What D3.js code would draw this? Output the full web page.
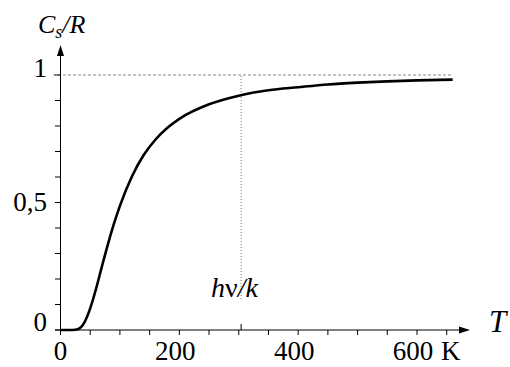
<!DOCTYPE html>
<html>
<head>
<meta charset="utf-8">
<script src="https://cdn.jsdelivr.net/npm/d3@7"></script>
</head>
<body style="margin:0">
<svg id="heat" width="510" height="367"></svg>
<script>
// values
const tempK = [0, 20, 30, 35, 40, 50, 60, 70, 80, 90, 100, 120, 140, 160, 180, 200, 250, 300, 350, 400, 450, 500, 550, 600, 660]
const heatCap = [0, 0, 0.004, 0.012, 0.029, 0.085, 0.163, 0.252, 0.338, 0.417, 0.487, 0.601, 0.686, 0.747, 0.793, 0.828, 0.885, 0.919, 0.94, 0.952, 0.963, 0.97, 0.975, 0.979, 0.982]
const xTickVals = [0, 200, 400, 600]
const xTickLabels = ["0", "200", "400", "600"]
const yTickVals = [0, 0.5, 1]
const yTickLabels = ["0", "0,5", "1"]
const hvk = 304

const svg = d3.select('#heat')
const fontName = 'Liberation Serif'

const x = d3.scaleLinear().domain([0, 600]).range([60.5, 417])
const y = d3.scaleLinear().domain([0, 1]).range([330, 75])

// reference lines
svg.append('line')
    .attr('x1', 53).attr('x2', x(660))
    .attr('y1', y(1)).attr('y2', y(1))
    .attr('stroke', '#888').attr('stroke-width', 1)
    .attr('stroke-dasharray', '3,2')

svg.append('line')
    .attr('x1', x(hvk)).attr('x2', x(hvk))
    .attr('y1', y(1) + 1).attr('y2', 300)
    .attr('stroke', '#777').attr('stroke-width', 1)
    .attr('stroke-dasharray', '1,2')

// minor ticks
const ax = svg.append('g').attr('stroke', '#000').attr('stroke-width', 1)
ax.selectAll('.xt')
    .data(d3.range(0, 651, 50))
    .join('line')
    .attr('x1', d => x(d)).attr('x2', d => x(d))
    .attr('y1', y(0)).attr('y2', y(0) + 5)
ax.selectAll('.yt')
    .data(d3.range(0, 11).map(i => i / 10))
    .join('line')
    .attr('x1', 55).attr('x2', x(0))
    .attr('y1', d => y(d)).attr('y2', d => y(d))
ax.append('line')
    .attr('x1', x(hvk)).attr('x2', x(hvk))
    .attr('y1', y(0) - 6).attr('y2', y(0))

// axes with arrows
ax.append('line').attr('x1', 55).attr('x2', 462).attr('y1', y(0)).attr('y2', y(0))
ax.append('line').attr('x1', x(0)).attr('x2', x(0)).attr('y1', 335).attr('y2', 53)
svg.append('path')
    .attr('d', `M470,${y(0)} L459,${y(0) - 3.5} L459,${y(0) + 3.5} Z`)
svg.append('path')
    .attr('d', `M${x(0)},45 L${x(0) - 3.5},56 L${x(0) + 3.5},56 Z`)

// curve
const line = d3.line()
    .x((d, i) => x(tempK[i]))
    .y(d => y(d))
    .curve(d3.curveMonotoneX)

svg.append('path')
    .datum(heatCap)
    .attr('d', line)
    .attr('fill', 'none')
    .attr('stroke', '#000')
    .attr('stroke-width', 2.6)
    .attr('stroke-linejoin', 'round')

// x tick labels
svg.selectAll('.xl')
    .data(xTickVals)
    .join('text')
    .attr('font-family', fontName)
    .attr('font-size', 27)
    .attr('text-anchor', 'middle')
    .attr('x', d => x(d) - (d > 0 ? 4 : 0))
    .attr('y', 360)
    .text((d, i) => xTickLabels[i])

svg.append('text')
    .attr('font-family', fontName)
    .attr('font-size', 27)
    .attr('x', x(600) + 24)
    .attr('y', 360)
    .text('K')

// y tick labels
svg.selectAll('.yl')
    .data(yTickVals)
    .join('text')
    .attr('font-family', fontName)
    .attr('font-size', 27)
    .attr('text-anchor', 'end')
    .attr('x', 47)
    .attr('y', d => y(d) + (d === 1 ? 2 : d === 0 ? 1 : 8))
    .text((d, i) => yTickLabels[i])

// axis titles
const yt = svg.append('text').attr('x', 38).attr('y', 33)
    .attr('font-family', fontName).attr('font-size', 26).attr('font-style', 'italic')
yt.append('tspan').text('C')
yt.append('tspan').attr('font-size', 18).attr('dy', 5).text('s')
yt.append('tspan').attr('dy', -5).text('/R')

svg.append('text').attr('x', 489).attr('y', 332)
    .attr('font-family', fontName).attr('font-size', 31).attr('font-style', 'italic').text('T')

const hl = svg.append('text').attr('x', 211).attr('y', 297)
    .attr('font-family', fontName).attr('font-size', 28)
hl.append('tspan').attr('font-style', 'italic').text('h')
hl.append('tspan').text('ν')
hl.append('tspan').attr('font-style', 'italic').text('/k')
</script>
</body>
</html>
